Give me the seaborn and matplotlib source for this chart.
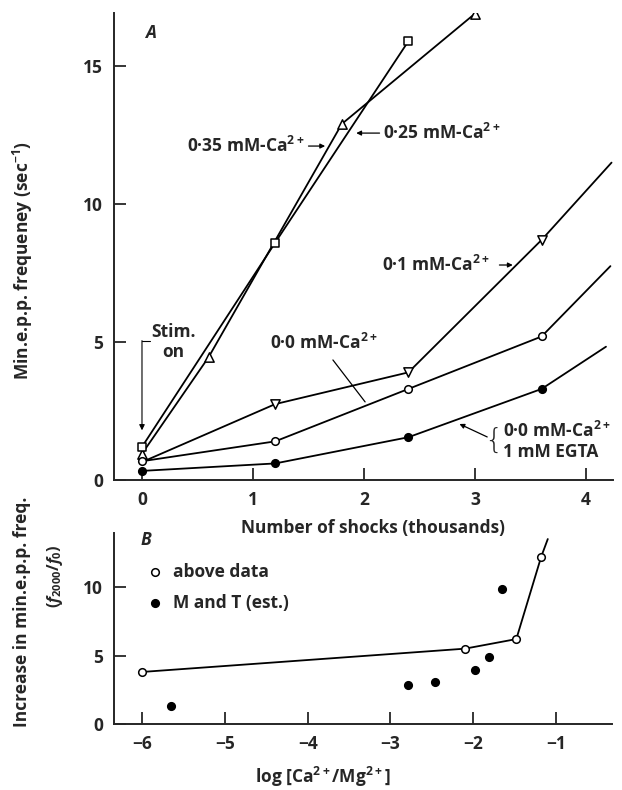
import matplotlib
matplotlib.use("Agg")
import matplotlib.pyplot as plt
import seaborn as sns

# ---- Panel A: min.e.p.p. frequency against number of shocks (thousands) ----
# 0.25 mM Ca (squares)
sq_x = [0.0, 1.2, 2.4]
sq_y = [1.2, 8.6, 15.9]
# 0.35 mM Ca (upward triangles)
up_x = [0.0, 0.6, 1.8, 3.0]
up_y = [0.95, 4.45, 12.9, 16.9]
# 0.1 mM Ca (downward triangles), line continued past the last point
dn_x = [0.0, 1.2, 2.4, 3.6]
dn_y = [0.65, 2.75, 3.9, 8.7]
dn_tail_x, dn_tail_y = 4.23, 11.5
# 0.0 mM Ca (open circles)
oc_x = [0.0, 1.2, 2.4, 3.6]
oc_y = [0.68, 1.4, 3.3, 5.2]
oc_tail_x, oc_tail_y = 4.22, 7.75
# 0.0 mM Ca + 1 mM EGTA (filled circles)
fc_x = [0.0, 1.2, 2.4, 3.6]
fc_y = [0.33, 0.6, 1.55, 3.3]
fc_tail_x, fc_tail_y = 4.18, 4.83

a_xticks = [0, 1, 2, 3, 4]
a_yticks = [0, 5, 10, 15]

# ---- Panel B: increase in frequency against log [Ca/Mg] ----
b_open_x = [-6.0, -2.1, -1.48, -1.18]
b_open_y = [3.8, 5.5, 6.2, 12.2]
b_tail_x, b_tail_y = -1.1, 13.5
b_fill_x = [-5.65, -2.79, -2.46, -1.98, -1.81, -1.65]
b_fill_y = [1.35, 2.85, 3.1, 3.95, 4.9, 9.85]

b_xticks = [-6, -5, -4, -3, -2, -1]
b_xticklabels = ["−6", "−5", "−4", "−3", "−2", "−1"]
b_yticks = [0, 5, 10]

sns.set_style("ticks")
plt.rcParams["font.family"] = ["Open Sans", "DejaVu Sans"]
plt.rcParams["font.weight"] = "bold"
plt.rcParams["axes.labelweight"] = "bold"
plt.rcParams["mathtext.fontset"] = "custom"
plt.rcParams["mathtext.rm"] = "Open Sans:bold"
plt.rcParams["mathtext.bf"] = "Open Sans:bold"
plt.rcParams["mathtext.it"] = "Open Sans:italic:bold"
plt.rcParams["mathtext.default"] = "regular"
FS = 12.5
LW = 1.3

fig = plt.figure(figsize=(6.22, 7.90), dpi=100)
axA = fig.add_axes([0.1833, 0.3924, 0.8022, 0.5911])
axB = fig.add_axes([0.1833, 0.0835, 0.8007, 0.2418])
axB.patch.set_visible(False)


def line(ax, xs, ys):
    sns.lineplot(x=xs, y=ys, ax=ax, color="black", linewidth=LW,
                 sort=False, estimator=None, zorder=2)


def marks(ax, xs, ys, marker, size, filled=False):
    sns.scatterplot(x=xs, y=ys, ax=ax, marker=marker, s=size,
                    facecolor="black" if filled else "white",
                    edgecolor="black", linewidth=1.1, zorder=4)


# Panel A lines
line(axA, up_x, up_y)
line(axA, sq_x, sq_y)
line(axA, dn_x + [dn_tail_x], dn_y + [dn_tail_y])
line(axA, oc_x + [oc_tail_x], oc_y + [oc_tail_y])
line(axA, fc_x + [fc_tail_x], fc_y + [fc_tail_y])

marks(axA, up_x, up_y, "^", 45)
marks(axA, dn_x[1:], dn_y[1:], "v", 45)
marks(axA, sq_x, sq_y, "s", 32)
marks(axA, oc_x, oc_y, "o", 30)
marks(axA, fc_x, fc_y, "o", 30, filled=True)

axA.set_xlim(-0.252, 4.243)
axA.set_ylim(0, 16.92)
axA.set_xticks(a_xticks)
axA.set_yticks(a_yticks)
axA.set_xlabel("Number of shocks (thousands)", fontsize=FS)
axA.set_ylabel("Min.e.p.p. frequeney (sec$^{-1}$)", fontsize=FS)
axA.xaxis.set_label_coords(0.52, -0.084)
axA.yaxis.set_label_coords(-0.158, 0.47)

axA.text(0.03, 16.2, "A", fontsize=FS, style="italic", ha="left", va="center")

# stimulus marker
axA.plot([0.07, 0.0], [5.04, 5.04], color="black", lw=0.8)
axA.annotate("", xy=(0.0, 1.8), xytext=(0.0, 5.05),
             arrowprops=dict(arrowstyle="-|>", color="black", lw=0.8,
                             mutation_scale=8, shrinkA=0, shrinkB=0))
axA.text(0.08, 5.0, "Stim.\non", fontsize=FS, ha="left", va="center",
         multialignment="center", linespacing=1.1)

arrow = dict(arrowstyle="-|>", color="black", lw=0.9, mutation_scale=7,
             shrinkA=0, shrinkB=0)
axA.text(1.46, 12.1, "0·35 mM-Ca$^{2+}$", fontsize=FS, ha="right", va="center")
axA.annotate("", xy=(1.65, 12.1), xytext=(1.5, 12.1), arrowprops=arrow)

axA.annotate("", xy=(1.93, 12.57), xytext=(2.14, 12.57), arrowprops=arrow)
axA.text(2.17, 12.57, "0·25 mM-Ca$^{2+}$", fontsize=FS, ha="left", va="center")

axA.text(2.16, 7.79, "0·1 mM-Ca$^{2+}$", fontsize=FS, ha="left", va="center")
axA.annotate("", xy=(3.34, 7.79), xytext=(3.22, 7.79), arrowprops=arrow)

axA.text(1.15, 4.96, "0·0 mM-Ca$^{2+}$", fontsize=FS, ha="left", va="center")
axA.plot([1.72, 2.01], [4.35, 2.83], color="black", lw=0.9)

axA.text(3.245, 1.42, "{", fontsize=21, fontweight="light", ha="right",
         va="center", family=["DejaVu Sans"])
axA.text(3.25, 1.42, "0·0 mM-Ca$^{2+}$\n1 mM EGTA", fontsize=FS, ha="left",
         va="center", linespacing=1.15)
axA.annotate("", xy=(2.86, 2.03), xytext=(3.11, 1.56), arrowprops=arrow)

# Panel B
line(axB, b_open_x + [b_tail_x], b_open_y + [b_tail_y])
marks(axB, b_open_x, b_open_y, "o", 30)
marks(axB, b_fill_x, b_fill_y, "o", 30, filled=True)

axB.set_xlim(-6.338, -0.324)
axB.set_ylim(0, 13.94)
axB.set_xticks(b_xticks)
axB.set_xticklabels(b_xticklabels)
axB.set_yticks(b_yticks)
axB.set_xlabel("log [Ca$^{2+}$/Mg$^{2+}$]", fontsize=FS)
axB.xaxis.set_label_coords(0.42, -0.215)
axB.set_ylabel("Increase in min.e.p.p. freq.", fontsize=FS)
axB.yaxis.set_label_coords(-0.167, 0.586)
axB.text(-0.118, 0.775, r"($\mathit{f}_{2000}/\mathit{f}_{0}$)", fontsize=FS - 1,
         rotation=90, ha="center", va="center", transform=axB.transAxes)

axB.text(-6.02, 13.4, "B", fontsize=FS, style="italic", ha="left", va="center")
marks(axB, [-5.84], [11.1], "o", 30)
marks(axB, [-5.84], [8.83], "o", 30, filled=True)
axB.text(-5.63, 11.1, "above data", fontsize=FS, ha="left", va="center")
axB.text(-5.63, 8.83, "M and T (est.)", fontsize=FS, ha="left", va="center")

for ax in (axA, axB):
    sns.despine(ax=ax)
    ax.spines["left"].set_linewidth(1.4)
    ax.spines["bottom"].set_linewidth(1.4)
    ax.tick_params(direction="in", length=8.5, width=1.3, labelsize=FS,
                   pad=8)
    for lab in ax.get_xticklabels() + ax.get_yticklabels():
        lab.set_fontweight("bold")

fig.savefig("out.png", dpi=100, facecolor="white")
